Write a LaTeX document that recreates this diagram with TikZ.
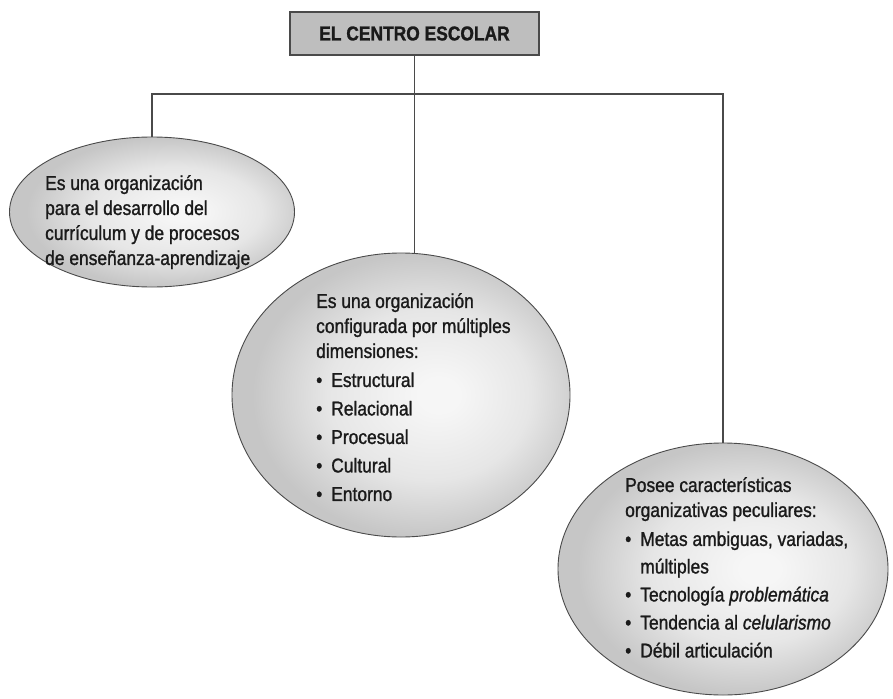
\documentclass[tikz,border=0pt]{standalone}
\usepackage{fontspec}
\setmainfont[FakeStretch=0.87, FakeBold=1.2]{Liberation Sans}
\usetikzlibrary{shapes.geometric}
\definecolor{linegray}{HTML}{4A4A4A}
\definecolor{boxgray}{HTML}{BEBEBE}
\definecolor{txt}{HTML}{1A1A1A}
\definecolor{orbin}{HTML}{F6F6F6}
\definecolor{orbmid}{HTML}{E6E6E6}
\definecolor{orbout}{HTML}{C6C6C6}
\pgfdeclareradialshading{orb}{\pgfpoint{6bp}{0bp}}{color(0bp)=(orbin); color(3bp)=(orbin); color(15bp)=(orbmid); color(25bp)=(orbout); color(50bp)=(orbout)}
\tikzset{
  bubble/.style={ellipse, draw=linegray, line width=0.9pt, shading=orb, inner sep=0pt},
  bubbletext/.style={anchor=north west, inner sep=0pt, align=left, text=txt,
    font=\fontsize{20}{25}\selectfont},
  link/.style={draw=linegray, line width=1.1pt},
}
\newcommand{\bul}{\textbullet\hspace{0.45em}}
\begin{document}
\begin{tikzpicture}[x=1pt,y=-1pt]
\useasboundingbox (0,0) rectangle (893,698);
\node[draw=linegray, fill=boxgray, line width=1.1pt, minimum width=249pt, minimum height=43pt, inner sep=0pt,
  text=txt, font=\fontsize{20}{24}\selectfont\bfseries] (t) at (414.5,33.5) {EL CENTRO ESCOLAR};
\node[bubble, minimum width=285pt, minimum height=150pt] (e1) at (152,212) {};
\node[bubble, minimum width=338pt, minimum height=284pt] (e2) at (401,395) {};
\node[bubble, minimum width=330pt, minimum height=252pt] (e3) at (723,569) {};
\coordinate (h) at (414.5,94);
\draw[link] (e1.north) -- (e1.north |- h) -- (e3.north |- h) -- (e3.north);
\draw[link] (t.south) -- (t.south |- e2.north);
\node[bubbletext] (t1) at (45,175) {Es una organización\\para el desarrollo del\\currículum y de procesos\\de enseñanza-aprendizaje};
\node[bubbletext] (t2) at (316,293) {Es una organización\\configurada por múltiples\\dimensiones:\\[4pt]\bul Estructural\\[3.5pt]\bul Relacional\\[3.5pt]\bul Procesual\\[3.5pt]\bul Cultural\\[3.5pt]\bul Entorno};
\node[bubbletext] (t3) at (625,477) {Posee características\\organizativas peculiares:\\[4pt]\bul Metas ambiguas, variadas,\\[2.5pt]\phantom{\bul}múltiples\\[3pt]\bul Tecnología \textit{problemática}\\[3pt]\bul Tendencia al \textit{celularismo}\\[3pt]\bul Débil articulación};
\end{tikzpicture}
\end{document}
